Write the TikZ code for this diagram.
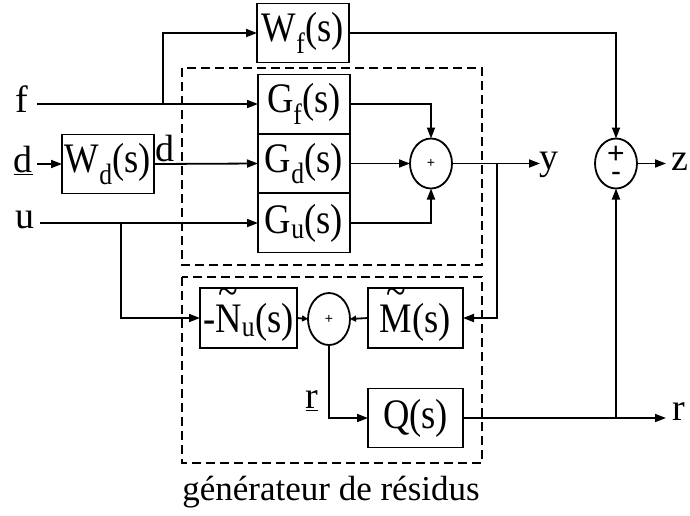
\documentclass[tikz,border=0pt]{standalone}
\usepackage{fontspec}
\setmainfont{Liberation Serif}
\newfontfamily\boxfont{Liberation Serif}[FakeStretch=0.87]
\newfontfamily\sumfont{Liberation Sans}
\usetikzlibrary{arrows.meta,shapes.geometric}
\newcommand\tld[1]{\leavevmode\setbox0\hbox{#1}\rlap{\hbox to\wd0{\hss\smash{\raisebox{0.62em}{\textasciitilde}}\hss}}\box0}
\begin{document}
\begin{tikzpicture}[x=1pt,y=-1pt,
  every node/.style={inner sep=0pt,outer sep=0pt},
  blk/.style={draw,line width=1.8pt,minimum width=92pt,minimum height=59pt,font=\boxfont\fontsize{42}{44}\selectfont},
  tblk/.style={blk,text height=34pt,text depth=6pt},
  lbl/.style={font=\fontsize{38}{40}\selectfont},
  sumnode/.style={draw,ellipse,line width=1.8pt,minimum width=42pt,minimum height=50pt},
  conn/.style={line width=1.8pt,-{Triangle[length=11pt,width=8pt]}},
  sconn/.style={line width=1.8pt,-{Triangle[length=6pt,width=6pt]}},
  dbox/.style={line width=2.6pt,dash pattern=on 9pt off 5pt}]
\useasboundingbox (0,0) rectangle (690,515);
% blocks
\node[blk] (Wf) at (303,33) {W\textsubscript{f}(s)};
\node[blk] (Gf) at (304,104) {G\textsubscript{f}(s)};
\node[blk] (Gd) at (304,163.5) {G\textsubscript{d}(s)};
\node[blk] (Gu) at (304,223) {G\textsubscript{u}(s)};
\node[blk] (Wd) at (108,164) {W\textsubscript{d}(s)};
\node[tblk,minimum width=97pt,minimum height=60pt] (Nu) at (248.5,318) {-\tld{N}\textsubscript{u}(s)};
\node[tblk,minimum width=95pt,minimum height=60pt] (M) at (415.5,318) {\tld{M}(s)};
\node[blk,minimum width=95pt] (Q) at (415.5,418) {Q(s)};
% summing junctions
\node[sumnode] (s1) at (431,163.5) {\sumfont\fontsize{14}{14}\selectfont +};
\node[sumnode] (s2) at (616,163.5) {};
\node[font=\sumfont\fontsize{30}{30}\selectfont] (s2p) at (616,155) {+};
\node[font=\sumfont\fontsize{30}{30}\selectfont] (s2m) at (616,177) {-};
\node[sumnode,minimum height=52pt] (s3) at (329,319) {\sumfont\fontsize{14}{14}\selectfont +};
% dashed boxes
\draw[dbox] (182,68) rectangle (482,265);
\draw[dbox] (182,277) rectangle (482,463);
% labels
\node[lbl] (lf) at (22,99) {f};
\node[lbl] (ld) at (23,160) {\underline{d}};
\node[lbl] (lu) at (25,220) {u};
\node[lbl] (ldd) at (165,148) {d};
\node[lbl] (ly) at (549,165) {y};
\node[lbl] (lz) at (680,162) {z};
\node[lbl] (lr) at (679,412) {r};
\node[lbl] (lrr) at (312,401) {\underline{r}};
\node[font=\fontsize{35}{36}\selectfont] (cap) at (331,492) {générateur de résidus};
% coordinates
\coordinate (fin) at (37,104);
\coordinate (din) at (37,164);
\coordinate (uin) at (40,223);
\coordinate (b1) at (163,104);
\coordinate (b2) at (121,223);
\coordinate (b3) at (497,163.5);
\coordinate (b4) at (616,418);
\coordinate (yout) at (540,163.5);
\coordinate (zout) at (666,163.5);
\coordinate (rout) at (666,418);
% connectors
\draw[conn] (fin) -- (Gf.west);
\draw[conn] (b1) |- (Wf.west);
\draw[conn] (din) -- (Wd.west);
\draw[conn] (Wd.east) -- (Gd.west);
\draw[conn] (uin) -- (Gu.west);
\draw[conn] (b2) |- (Nu.west);
\draw[conn] (Gf.east) -| (s1.north);
\draw[conn] (Gd.east) -- (s1.west);
\draw[conn] (Gu.east) -| (s1.south);
\draw[conn] (s1.east) -- (yout);
\draw[conn] (b3) |- (M.east);
\draw[sconn] (Nu.east) -- (s3.west);
\draw[sconn] (M.west) -- (s3.east);
\draw[conn] (s3.south) |- (Q.west);
\draw[conn] (Q.east) -- (rout);
\draw[conn] (b4) -- (s2.south);
\draw[conn] (Wf.east) -| (s2.north);
\draw[conn] (s2.east) -- (zout);
\end{tikzpicture}
\end{document}
